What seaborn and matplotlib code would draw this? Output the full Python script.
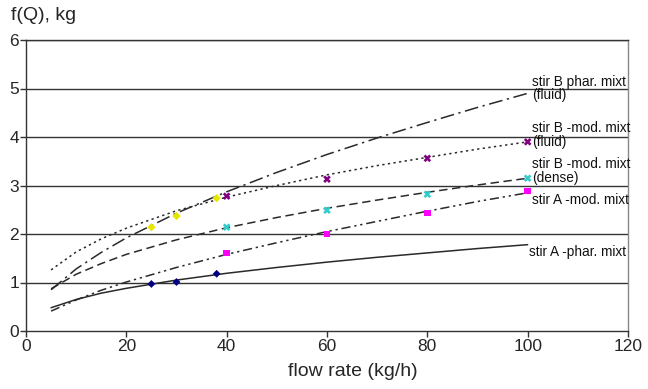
import matplotlib
matplotlib.use("Agg")
import matplotlib.pyplot as plt
import seaborn as sns

# ---- data ----
flow = [5, 10, 15, 20, 30, 40, 50, 60, 70, 80, 90, 100]
b_phar_fluid = [0.85, 1.28, 1.62, 1.92, 2.43, 2.87, 3.27, 3.64, 3.98, 4.30, 4.61, 4.90]
b_mod_fluid = [1.26, 1.63, 1.90, 2.12, 2.48, 2.76, 3.00, 3.22, 3.41, 3.58, 3.75, 3.90]
b_mod_dense = [0.87, 1.17, 1.39, 1.58, 1.88, 2.13, 2.34, 2.53, 2.70, 2.86, 3.01, 3.15]
a_mod = [0.41, 0.64, 0.84, 1.01, 1.31, 1.58, 1.82, 2.05, 2.26, 2.47, 2.67, 2.85]
a_phar = [0.48, 0.65, 0.78, 0.88, 1.05, 1.19, 1.31, 1.42, 1.52, 1.61, 1.70, 1.78]

pts_b_phar_x = [25, 30, 38]
pts_b_phar_y = [2.14, 2.37, 2.74]
pts_b_modf_x = [40, 60, 80, 100]
pts_b_modf_y = [2.78, 3.13, 3.56, 3.90]
pts_b_modd_x = [40, 60, 80, 100]
pts_b_modd_y = [2.14, 2.49, 2.82, 3.15]
pts_a_mod_x = [40, 60, 80, 100]
pts_a_mod_y = [1.61, 2.00, 2.43, 2.89]
pts_a_phar_x = [25, 30, 38]
pts_a_phar_y = [0.97, 1.01, 1.18]

labels = ["stir B phar. mixt\n(fluid)", "stir B -mod. mixt\n(fluid)",
          "stir B -mod. mixt\n(dense)", "stir A -mod. mixt", "stir A -phar. mixt"]
label_y = [5.0, 4.04, 3.30, 2.70, 1.63]
label_x = [100.8, 100.8, 100.8, 100.8, 100.2]

x_ticks = [0, 20, 40, 60, 80, 100, 120]
y_ticks = [0, 1, 2, 3, 4, 5, 6]

# ---- plot ----
sns.set_style("white")
plt.rcParams['font.family'] = ['Liberation Sans', 'DejaVu Sans']

fig = plt.figure(figsize=(6.48, 3.89), dpi=100)
ax = fig.add_axes([26/648, 1-331/389, (628-26)/648, (331-40)/389])

for yv in y_ticks[1:]:
    ax.axhline(yv, color="#333333", lw=1.0, zorder=1)

line_col = "#2a2a2a"
series = [
    (b_phar_fluid, (0, (9, 3, 1.5, 3))),
    (b_mod_fluid, (0, (1.5, 2.2))),
    (b_mod_dense, (0, (5.5, 3))),
    (a_mod, (0, (6, 2.5, 1.5, 2.5, 1.5, 2.5))),
    (a_phar, "-"),
]
for yvals, ls in series:
    sns.lineplot(x=flow, y=yvals, ax=ax, color=line_col, lw=1.1,
                 linestyle=ls, zorder=3)

mk = [
    (pts_b_phar_x, pts_b_phar_y, "#e6e600", "D", 18),
    (pts_b_modf_x, pts_b_modf_y, "#800080", "X", 30),
    (pts_b_modd_x, pts_b_modd_y, "#33cccc", "X", 30),
    (pts_a_mod_x, pts_a_mod_y, "#ff00ff", "s", 22),
    (pts_a_phar_x, pts_a_phar_y, "#000080", "D", 16),
]
for xs, ys, c, m, s in mk:
    sns.scatterplot(x=xs, y=ys, ax=ax, color=c, marker=m, s=s,
                    edgecolor="none", zorder=4)

for t, lx, ly in zip(labels, label_x, label_y):
    ax.text(lx, ly, t, fontsize=9.8, ha="left", va="center",
            color="#111111", linespacing=0.95, zorder=5)

ax.set_xlim(0, 120)
ax.set_ylim(0, 6)
ax.set_xticks(x_ticks)
ax.set_yticks(y_ticks)
ax.tick_params(axis="both", labelsize=12.5, direction="out", length=4,
               width=1, color="#333333", pad=2)
ax.tick_params(axis="x", bottom=True)
ax.tick_params(axis="y", left=True, pad=1)
for side in ["left", "bottom", "right", "top"]:
    ax.spines[side].set_visible(True)
    ax.spines[side].set_color("#333333")
    ax.spines[side].set_linewidth(1.0)
ax.spines["right"].set_color("#888888")

ax.set_xlabel("")
ax.set_ylabel("")
fig.text(353/648, 1-372/389, "flow rate (kg/h)", fontsize=14, ha="center", va="center")
fig.text(11/648, 1-15/389, "f(Q), kg", fontsize=14, ha="left", va="center")

fig.savefig("out.png", dpi=100)
